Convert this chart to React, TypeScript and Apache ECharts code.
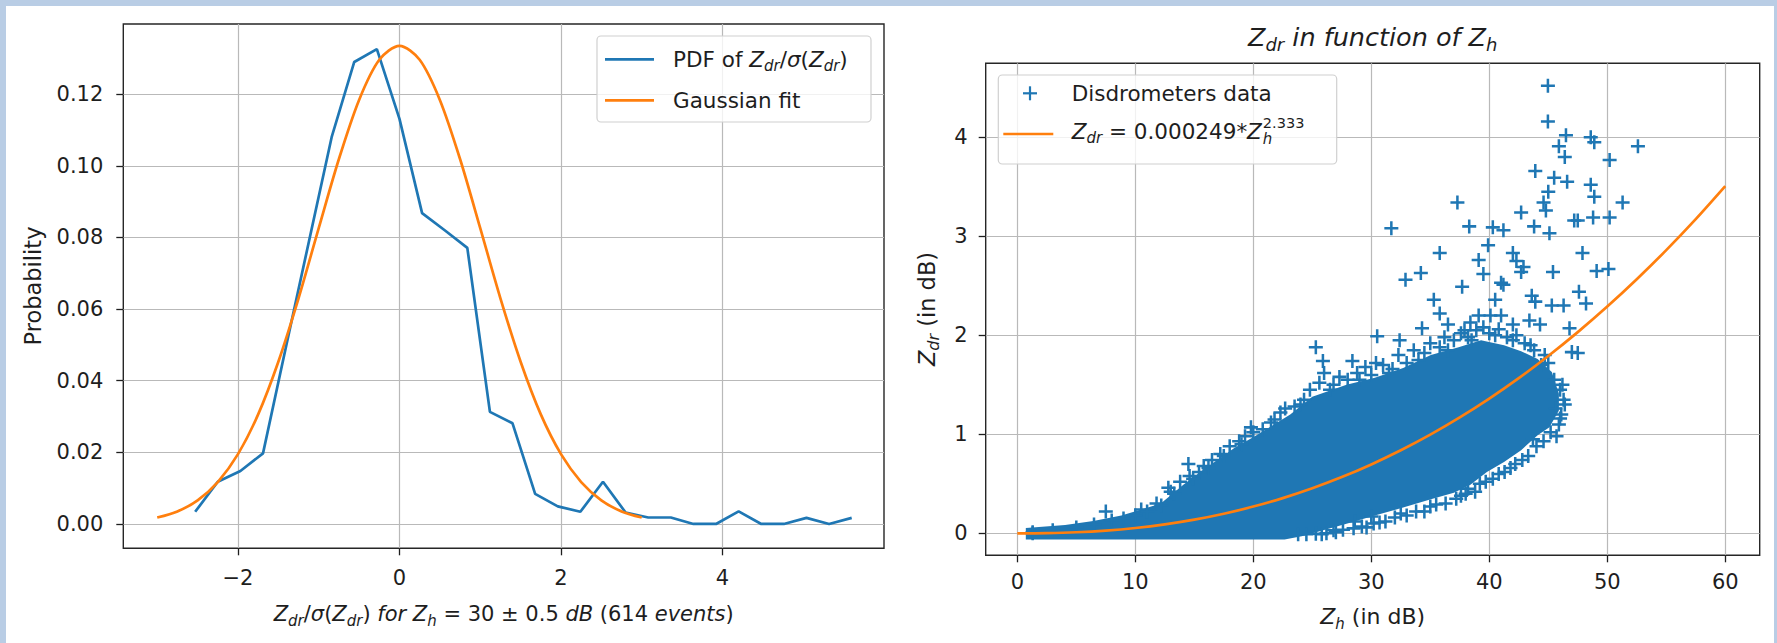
import React, { useEffect, useRef } from 'react';
import * as echarts from 'echarts';

// ---- Left panel: normalised Zdr distribution for Zh = 30 dB ----
const pdfX = [-2.53, -2.25, -1.97, -1.69, -1.41, -1.12, -0.84, -0.56, -0.28, 0.0, 0.28, 0.56, 0.84, 1.12, 1.4, 1.68, 1.96, 2.24, 2.52, 2.8, 3.08, 3.36, 3.64, 3.92, 4.2, 4.48, 4.76, 5.04, 5.32, 5.6];
const pdfY = [0.0034, 0.0118, 0.0148, 0.0197, 0.049, 0.079, 0.108, 0.129, 0.1326, 0.1131, 0.0868, 0.082, 0.0771, 0.0313, 0.0281, 0.0084, 0.0049, 0.0034, 0.0118, 0.0032, 0.0018, 0.0018, 0.0, 0.0, 0.0035, 0.0, 0.0, 0.0017, 0.0, 0.0017];

const gaussX = [-3, -2.75, -2.5, -2.25, -2, -1.75, -1.5, -1.25, -1, -0.75, -0.5, -0.25, 0, 0.25, 0.5, 0.75, 1, 1.25, 1.5, 1.75, 2, 2.25, 2.5, 2.75, 3];
const gaussY = [0.0018, 0.0035, 0.0066, 0.0117, 0.0195, 0.0306, 0.0453, 0.063, 0.0826, 0.1019, 0.1184, 0.1296, 0.1335, 0.1296, 0.1184, 0.1019, 0.0826, 0.063, 0.0453, 0.0306, 0.0195, 0.0117, 0.0066, 0.0035, 0.0018];

const pdfXTicks = [-2, 0, 2, 4];
const pdfYTicks = [0, 0.02, 0.04, 0.06, 0.08, 0.1, 0.12];

// ---- Right panel: Zdr against Zh ----
// outline of the dense cloud of disdrometer samples
const cloudOutline = [
  [0.72, 0.054], [4.05, 0.083], [6.44, 0.125], [8.82, 0.179], [12.16, 0.3], [14.07, 0.49], [15.5, 0.62],
  [18.36, 0.86], [20.27, 0.99], [23.13, 1.2], [25.0, 1.38], [27.9, 1.5], [30.3, 1.57], [32.7, 1.67],
  [35.05, 1.8], [37.4, 1.88], [39.3, 1.95], [41.25, 1.9], [42.7, 1.84], [44.1, 1.76], [45.3, 1.63],
  [45.9, 1.41], [45.9, 1.24], [45.1, 1.07], [44.1, 0.99], [42.7, 0.84], [41.25, 0.72], [39.8, 0.62],
  [38.4, 0.49], [37.0, 0.41], [35.05, 0.345], [32.7, 0.26], [30.3, 0.18], [27.9, 0.096], [26.0, 0.033],
  [24.1, -0.03], [22.65, -0.062], [0.72, -0.062],
];

// individual samples around and above the cloud
const sampleZh = [
  44.97, 44.97, 46.5, 48.6, 48.9, 45.9, 52.6, 46.4, 50.2, 43.9, 45.5, 46.6, 48.6, 48.9, 45.0, 51.3, 37.3, 44.6,
  42.7, 44.8, 47.2, 47.5, 48.8, 50.2, 38.3, 40.3, 41.2, 43.8, 31.7, 45.1, 39.9, 35.8, 42.0, 47.9, 39.1, 42.3,
  42.9, 42.7, 39.5, 45.4, 49.1, 50.1, 34.2, 32.9, 41.0, 41.2, 37.7, 47.6, 35.3, 43.6, 43.9, 40.5, 48.2, 45.3,
  46.3, 39.1, 40.1, 41.0, 35.8, 43.4, 44.3, 42.0, 46.8, 38.4, 36.5, 34.3, 37.9, 32.4, 30.5, 25.3, 28.4, 25.9,
  30.4, 47.0, 47.5, 46.0, 45.6, 38.2, 30.0, 28.6, 12.8, 7.5, 19.8, 14.5, 15.4, 18.8, 22.7,
  21.5, 24.0, 26.5, 29.0, 31.5, 34.0, 36.5, 38.5, 40.5, 42.0, 43.5, 44.7, 46.2, 46.3, 45.7, 44.6, 43.3, 41.8,
  40.3, 38.8, 37.2, 35.5, 33.8, 32.0, 30.7, 29.2, 27.6, 26.2, 25.3,
  10.5, 11.8, 13.3, 14.9, 16.2, 17.5, 19.0, 1.3, 1.3,
  13.0, 13.8, 14.6, 15.8, 16.5, 17.2, 18.0, 19.3, 20.0, 20.8, 21.8, 22.3, 23.5, 24.3, 24.8, 25.6, 26.0, 26.8,
  27.3, 28.0, 28.8, 29.5, 30.0, 31.0, 31.8, 32.3, 33.0, 33.6, 34.5, 35.0, 35.8, 36.2, 37.0, 37.6, 38.2, 38.9,
  39.5, 40.0, 40.8, 41.5, 42.3, 43.0, 43.8, 44.4, 45.0, 45.5, 46.0, 46.4, 46.1, 45.9, 45.2,
  44.0, 43.7, 42.8, 42.2, 41.3, 40.8, 39.7, 39.2, 38.0, 37.6, 36.3, 35.0, 34.5, 33.0, 32.5, 31.2, 30.2, 29.6,
  28.5, 27.0, 26.8, 25.8, 24.5, 23.8,
  3.0, 5.0, 6.5, 8.0, 9.0, 10.0, 11.0, 12.2,
];
const sampleZdr = [
  4.52, 4.16, 4.02, 4.0, 3.95, 3.91, 3.91, 3.8, 3.77, 3.66, 3.59, 3.55, 3.52, 3.4, 3.45, 3.34, 3.34, 3.34,
  3.24, 3.26, 3.16, 3.16, 3.19, 3.19, 3.1, 3.09, 3.06, 3.1, 3.08, 3.03, 2.91, 2.83, 2.83, 2.83, 2.76, 2.75,
  2.69, 2.64, 2.62, 2.64, 2.65, 2.67, 2.63, 2.56, 2.53, 2.51, 2.49, 2.44, 2.36, 2.4, 2.34, 2.36, 2.32, 2.3,
  2.3, 2.2, 2.2, 2.2, 2.22, 2.15, 2.11, 2.11, 2.07, 2.13, 2.11, 2.07, 2.05, 1.95, 1.99, 1.88, 1.74, 1.74,
  1.72, 1.83, 1.82, 1.16, 1.26, 0.45, 0.17, 0.12, 0.46, 0.22, 1.07, 0.7, 0.62, 0.93, 1.26,
  1.12, 1.3, 1.45, 1.55, 1.62, 1.75, 1.85, 1.95, 2.0, 1.95, 1.9, 1.8, 1.5, 1.35, 0.98, 0.93, 0.78, 0.66,
  0.55, 0.42, 0.35, 0.29, 0.22, 0.16, 0.11, 0.07, 0.035, 0.0, -0.005,
  0.24, 0.3, 0.4, 0.55, 0.66, 0.78, 0.9, 0.0, 0.01,
  0.42, 0.52, 0.58, 0.68, 0.74, 0.8, 0.88, 0.98, 1.02, 1.05, 1.15, 1.22, 1.28, 1.35, 1.45, 1.52, 1.62, 1.5,
  1.58, 1.55, 1.62, 1.68, 1.6, 1.7, 1.66, 1.8, 1.72, 1.85, 1.82, 1.92, 1.88, 1.98, 1.95, 2.02, 1.98, 2.05,
  2.08, 2.02, 2.06, 1.98, 2.0, 1.92, 1.85, 1.7, 1.72, 1.55, 1.45, 1.3, 1.2, 1.1, 1.02,
  0.88, 0.95, 0.74, 0.7, 0.62, 0.6, 0.52, 0.5, 0.4, 0.38, 0.3, 0.27, 0.22, 0.18, 0.2, 0.12, 0.1, 0.06,
  0.05, 0.01, 0.03, -0.01, -0.01, -0.01,
  0.03, 0.06, 0.09, 0.13, 0.15, 0.18, 0.22, 0.28,
];

// power-law fit Zdr = 0.000249 * Zh^2.333
const fitZh = [0, 2.5, 5, 7.5, 10, 12.5, 15, 17.5, 20, 22.5, 25, 27.5, 30, 32.5, 35, 37.5, 40, 42.5, 45, 47.5, 50, 52.5, 55, 57.5, 60];
const fitZdr = [0, 0.0021, 0.0106, 0.0274, 0.0536, 0.0902, 0.1381, 0.1979, 0.2702, 0.3557, 0.4549, 0.5677, 0.6958, 0.8386, 0.9968, 1.1708, 1.361, 1.5675, 1.791, 2.0318, 2.29, 2.5664, 2.86, 3.1728, 3.506];

const zhTicks = [0, 10, 20, 30, 40, 50, 60];
const zdrTicks = [0, 1, 2, 3, 4];

const BLUE = '#1f77b4';
const ORANGE = '#ff7f0e';
const INK = '#1e1e1e';
const FONT_NAME = 'DejaVu Sans';
const FONT = "'DejaVu Sans', sans-serif";
const GRID_LINE = '#b9b9b9';
const PLUS = 'path://M41,0H59V41H100V59H59V100H41V59H0V41H41Z';
const LINE_W = 2.7;

const minusFmt = (v: number) => (v < 0 ? '\u2212' + Math.abs(v) : String(v));

let measureCtx: CanvasRenderingContext2D | null = null;
function measure(text: string, size: number, italic = false) {
  if (!measureCtx) measureCtx = document.createElement('canvas').getContext('2d');
  if (!measureCtx) return text.length * size * 0.6;
  measureCtx.font = `${italic ? 'italic ' : ''}${size}px '${FONT_NAME}'`;
  return measureCtx.measureText(text).width;
}

function richSet(size: number) {
  const base = { fontFamily: FONT, fontSize: size, lineHeight: 30, verticalAlign: 'middle', fill: INK };
  return {
    r: { ...base },
    i: { ...base, fontStyle: 'italic' },
    s: { ...base, fontStyle: 'italic', fontSize: Math.round(size * 0.7), lineHeight: 16, padding: [14, 0, 0, 0] },
  };
}

function label(x: number, y: number, text: string, size: number, align = 'left', rotation = 0) {
  return {
    type: 'text',
    x,
    y,
    rotation,
    z: 100,
    style: {
      text,
      fill: INK,
      fontFamily: FONT,
      fontSize: size,
      align,
      textAlign: align,
      verticalAlign: 'middle',
      textVerticalAlign: 'middle',
      rich: richSet(size),
    },
  };
}

function plainText(x: number, y: number, text: string, size: number, italic = false) {
  return {
    type: 'text',
    x,
    y,
    z: 100,
    style: {
      text,
      fill: INK,
      fontFamily: FONT,
      fontSize: size,
      fontStyle: italic ? 'italic' : 'normal',
      align: 'left',
      textAlign: 'left',
      verticalAlign: 'middle',
      textVerticalAlign: 'middle',
    },
  };
}

function axisCommon(ticks: number[], margin: number, fmt: (v: number) => string) {
  return {
    axisLine: { show: false, onZero: false },
    axisTick: { show: true, length: 7, inside: false, customValues: ticks, lineStyle: { color: INK, width: 1.3 } },
    axisLabel: { show: true, customValues: ticks, margin, color: INK, fontSize: 21, fontFamily: FONT, formatter: fmt },
    splitLine: { show: true, lineStyle: { color: GRID_LINE, width: 1.2 } },
  };
}

function buildOption() {
  const pdfData = pdfX.map((x, i) => [x, pdfY[i]]);
  const gaussData = gaussX.map((x, i) => [x, gaussY[i]]);
  const samples = sampleZh.map((x, i) => [x, sampleZdr[i]]);
  const fitData = fitZh.map((x, i) => [x, fitZdr[i]]);

  // subscript h and exponent 2.333 are stacked right after the second Z of the fit label
  const fitLabelX = 1071.7;
  const fitRowY = 131;
  const scriptX =
    fitLabelX +
    measure('Z', 21.5, true) +
    measure('dr', 15, true) +
    measure(' = 0.000249*', 21.5) +
    measure('Z', 21.5, true) +
    1;

  const frame = '#b9cde5';
  const graphic: any[] = [
    { type: 'rect', z: 120, shape: { x: 0, y: 0, width: 1777, height: 6 }, style: { fill: frame } },
    { type: 'rect', z: 120, shape: { x: 0, y: 0, width: 6, height: 643 }, style: { fill: frame } },
    { type: 'rect', z: 120, shape: { x: 1774, y: 0, width: 3, height: 643 }, style: { fill: frame } },

    // left legend
    { type: 'rect', z: 90, shape: { x: 597, y: 36, width: 274, height: 86, r: 4 }, style: { fill: 'rgba(255,255,255,0.8)', stroke: '#d0d0d0', lineWidth: 1.2 } },
    { type: 'line', z: 95, shape: { x1: 605, y1: 59.3, x2: 654, y2: 59.3 }, style: { stroke: BLUE, lineWidth: LINE_W } },
    label(673, 59.3, '{r|PDF of }{i|Z}{s|dr}{r|/}{i|σ}{r|(}{i|Z}{s|dr}{r|)}', 21.5),
    { type: 'line', z: 95, shape: { x1: 605, y1: 100.3, x2: 654, y2: 100.3 }, style: { stroke: ORANGE, lineWidth: LINE_W } },
    label(673, 100.3, '{r|Gaussian fit}', 21.5),

    // right legend
    { type: 'rect', z: 90, shape: { x: 998.3, y: 75, width: 338.4, height: 89, r: 4 }, style: { fill: 'rgba(255,255,255,0.8)', stroke: '#d0d0d0', lineWidth: 1.2 } },
    { type: 'line', z: 95, shape: { x1: 1023, y1: 93.3, x2: 1037, y2: 93.3 }, style: { stroke: BLUE, lineWidth: 2.2 } },
    { type: 'line', z: 95, shape: { x1: 1030, y1: 86.3, x2: 1030, y2: 100.3 }, style: { stroke: BLUE, lineWidth: 2.2 } },
    label(1071.7, 93.3, '{r|Disdrometers data}', 21.5),
    { type: 'line', z: 95, shape: { x1: 1003.3, y1: 134, x2: 1053.3, y2: 134 }, style: { stroke: ORANGE, lineWidth: LINE_W } },
    label(fitLabelX, fitRowY, '{i|Z}{s|dr}{r| = 0.000249*}{i|Z}', 21.5),
    plainText(scriptX, fitRowY - 7.8, '2.333', 14.5),
    plainText(scriptX, fitRowY + 7.8, 'h', 15, true),

    // title and axis names
    label(1372.7, 37, '{i|Z}{s|dr}{i| in function of Z}{s|h}', 25.5, 'center'),
    label(33, 286, '{r|Probability}', 22.5, 'center', Math.PI / 2),
    label(503.7, 614, '{i|Z}{s|dr}{r|/}{i|σ}{r|(}{i|Z}{s|dr}{r|)}{i| for Z}{s|h}{r| = 30 ± 0.5 }{i|dB }{r|(614 }{i|events}{r|)}', 21, 'center'),
    label(926.5, 309, '{i|Z}{s|dr}{r| (in dB)}', 22.5, 'center', Math.PI / 2),
    label(1372.7, 616.7, '{i|Z}{s|h}{r| (in dB)}', 22, 'center'),
  ];

  return {
    animation: false,
    backgroundColor: '#ffffff',
    textStyle: { fontFamily: FONT },
    grid: [
      { left: 123.3, top: 24, width: 760.7, height: 524.3, show: true, borderColor: '#262626', borderWidth: 1.4, backgroundColor: 'transparent', containLabel: false },
      { left: 985.7, top: 63.3, width: 774, height: 492, show: true, borderColor: '#262626', borderWidth: 1.4, backgroundColor: 'transparent', containLabel: false },
    ],
    xAxis: [
      { type: 'value', gridIndex: 0, min: -3.42, max: 6.0, ...axisCommon(pdfXTicks, 19.5, minusFmt) },
      { type: 'value', gridIndex: 1, min: -2.68, max: 62.92, ...axisCommon(zhTicks, 16, (v: number) => String(v)) },
    ],
    yAxis: [
      { type: 'value', gridIndex: 0, min: -0.0068, max: 0.1396, ...axisCommon(pdfYTicks, 20, (v: number) => v.toFixed(2)) },
      { type: 'value', gridIndex: 1, min: -0.222, max: 4.747, ...axisCommon(zdrTicks, 18, (v: number) => String(v)) },
    ],
    series: [
      {
        name: 'PDF', type: 'line', xAxisIndex: 0, yAxisIndex: 0, data: pdfData, symbol: 'none', z: 3,
        lineStyle: { color: BLUE, width: LINE_W }, itemStyle: { color: BLUE },
      },
      {
        name: 'Gaussian fit', type: 'line', xAxisIndex: 0, yAxisIndex: 0, data: gaussData, symbol: 'none', smooth: 0.3, z: 4,
        lineStyle: { color: ORANGE, width: LINE_W }, itemStyle: { color: ORANGE },
      },
      {
        name: 'cloud', type: 'custom', xAxisIndex: 1, yAxisIndex: 1, data: [[20, 0.5]], z: 2,
        renderItem: (_params: any, api: any) => ({
          type: 'polygon',
          shape: { points: cloudOutline.map((p) => api.coord(p)) },
          style: { fill: BLUE },
        }),
      },
      {
        name: 'Disdrometers data', type: 'scatter', xAxisIndex: 1, yAxisIndex: 1, data: samples, z: 3,
        symbol: PLUS, symbolSize: 14, itemStyle: { color: BLUE, opacity: 1 },
      },
      {
        name: 'fit', type: 'line', xAxisIndex: 1, yAxisIndex: 1, data: fitData, symbol: 'none', smooth: 0.3, z: 5,
        lineStyle: { color: ORANGE, width: LINE_W }, itemStyle: { color: ORANGE },
      },
    ],
    graphic,
  };
}

export default function App() {
  const ref = useRef<HTMLDivElement>(null);
  useEffect(() => {
    if (!ref.current) return;
    const chart = echarts.init(ref.current, null, { renderer: 'svg' });
    chart.setOption(buildOption() as any);
    return () => chart.dispose();
  }, []);
  return <div ref={ref} style={{ position: 'absolute', left: 0, top: 0, width: 1777, height: 643 }} />;
}
